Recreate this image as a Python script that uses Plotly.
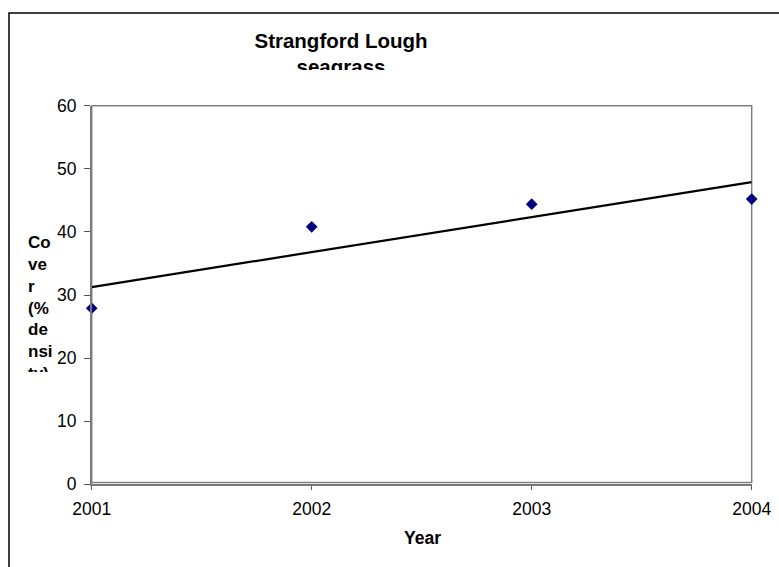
import numpy as np
import plotly.graph_objects as go

# Seagrass cover survey
years = [2001, 2002, 2003, 2004]
cover = [27.9, 40.8, 44.4, 45.2]
y_ticks = [0, 10, 20, 30, 40, 50, 60]

title_lines = ["Strangford Lough", "seagrass"]
ytitle_lines = ["Co", "ve", "r", "(%", "de", "nsi", "ty)"]
xtitle = "Year"

W, H = 779, 567
FONT = "Liberation Sans, Arial, sans-serif"

# Plot-area edges in page pixels
PL, PR, PT, PB = 91.7, 751.7, 105.7, 484.3
BORDER_BOTTOM = 482.5


def px_x(x):
    return x / W


def px_y(y):
    return (H - y) / H


# Linear trend fitted to the observations
slope, intercept = np.polyfit(years, cover, 1)
trend_x = [years[0], years[-1]]
trend_y = [slope * x + intercept for x in trend_x]

fig = go.Figure()
fig.add_trace(go.Scatter(
    x=trend_x, y=trend_y, mode="lines",
    line=dict(color="black", width=2.2),
    hoverinfo="skip", cliponaxis=False,
))
fig.add_trace(go.Scatter(
    x=years, y=cover, mode="markers",
    marker=dict(symbol="diamond", color="#000080", size=9),
    cliponaxis=False,
))

# Chart title, clipped to its text box (second line partly hidden)
title_y = [43 + 25.5 * i for i in range(len(title_lines))]
fig.add_trace(go.Scatter(
    x=[341] * len(title_lines), y=title_y, text=title_lines,
    mode="text", textposition="middle center",
    textfont=dict(family=FONT, size=20.5, color="black", weight="bold"),
    xaxis="x2", yaxis="y2", hoverinfo="skip", cliponaxis=True,
))

# Vertical axis title, wrapped narrow and clipped at the bottom
ytitle_y = [244 + 21.8 * i for i in range(len(ytitle_lines))]
fig.add_trace(go.Scatter(
    x=[28] * len(ytitle_lines), y=ytitle_y, text=ytitle_lines,
    mode="text", textposition="middle right",
    textfont=dict(family=FONT, size=17, color="black", weight="bold"),
    xaxis="x3", yaxis="y3", hoverinfo="skip", cliponaxis=True,
))

axis_font = dict(family=FONT, size=17.5, color="black")
hidden = dict(visible=False, showgrid=False, zeroline=False, fixedrange=True)

fig.update_layout(
    width=W, height=H,
    margin=dict(l=0, r=0, t=0, b=0, autoexpand=False),
    paper_bgcolor="white", plot_bgcolor="rgba(0,0,0,0)",
    showlegend=False,
    font=axis_font,
    xaxis=dict(
        domain=[px_x(PL), px_x(PR)],
        range=[2001, 2004], tickvals=years, ticktext=[str(y) for y in years],
        showgrid=False, zeroline=False,
        showline=True, linecolor="#7a7a7a", linewidth=1.5,
        ticks="outside", ticklen=4, tickcolor="#555555", tickwidth=1,
        ticklabelstandoff=4,
        tickfont=axis_font,
    ),
    yaxis=dict(
        domain=[px_y(PB), px_y(PT)],
        range=[0, 60], tickvals=y_ticks,
        showgrid=False, zeroline=False,
        showline=True, linecolor="#7a7a7a", linewidth=1.5,
        ticks="outside", ticklen=6, tickcolor="#555555", tickwidth=1,
        ticklabelstandoff=4,
        tickfont=axis_font,
    ),
    xaxis2=dict(domain=[0, 1], range=[0, W], anchor="y2", **hidden),
    yaxis2=dict(domain=[px_y(70), 1], range=[70, 0], anchor="x2", **hidden),
    xaxis3=dict(domain=[0, px_x(80)], range=[0, 80], anchor="y3", **hidden),
    yaxis3=dict(domain=[px_y(372), 1], range=[372, 0], anchor="x3", **hidden),
    shapes=[
        # outer chart frame (continues past the visible page)
        dict(type="rect", xref="paper", yref="paper",
             x0=px_x(9), x1=px_x(W + 20), y0=px_y(H + 20), y1=px_y(13),
             line=dict(color="black", width=1.5), fillcolor="rgba(0,0,0,0)",
             layer="below"),
        # plot-area border
        dict(type="rect", xref="paper", yref="paper",
             x0=px_x(PL), x1=px_x(PR), y0=px_y(BORDER_BOTTOM), y1=px_y(PT),
             line=dict(color="#808080", width=1.5), fillcolor="rgba(0,0,0,0)",
             layer="below"),
    ],
    annotations=[
        dict(text=f"<b>{xtitle}</b>", xref="paper", yref="paper",
             x=px_x(422.5), y=px_y(538),
             xanchor="center", yanchor="middle", showarrow=False,
             font=dict(family=FONT, size=17.5, color="black")),
    ],
)

fig.write_html("out.html")
